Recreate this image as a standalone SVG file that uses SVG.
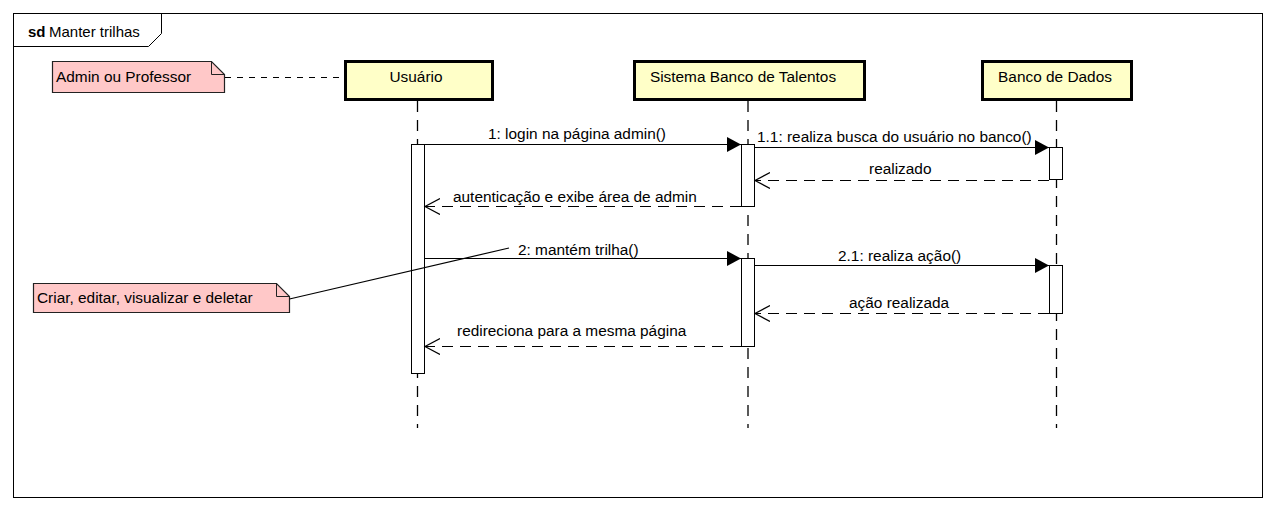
<svg xmlns="http://www.w3.org/2000/svg" width="1276" height="512" viewBox="0 0 1276 512">
<defs>
<style>
text{font-family:"Liberation Sans",Arial,sans-serif;font-size:15.4px;fill:#000}
.life{fill:#FFFFC8;stroke:#000;stroke-width:3}
.ll{stroke:#000;stroke-width:1.3;stroke-dasharray:11,8;fill:none}
.act{fill:#fff;stroke:#000;stroke-width:1}
.msg{stroke:#000;stroke-width:1.2;fill:none}
.ret{stroke:#000;stroke-width:1.2;fill:none;stroke-dasharray:11,7}
.note{fill:#FFC8C8;stroke:#222;stroke-width:1.2}
</style>
<marker id="sync" markerWidth="16" markerHeight="16" refX="14" refY="7.5" orient="auto" markerUnits="userSpaceOnUse">
<path d="M0,0 L14,7.5 L0,15 Z" fill="#000"/>
</marker>
<marker id="open" markerWidth="18" markerHeight="18" refX="15" refY="8.5" orient="auto" markerUnits="userSpaceOnUse">
<path d="M0,0.5 L15,8.5 L0,16.5" fill="none" stroke="#000" stroke-width="1.2"/>
</marker>
</defs>
<rect width="1276" height="512" fill="#fff"/>
<g id="frame">
<rect x="13.5" y="13.5" width="1249" height="484" fill="none" stroke="#000" stroke-width="1"/>
<path d="M13.5,46.5 H148.5 L161.5,33.5 V13.5" fill="none" stroke="#000" stroke-width="1"/>
<text x="28" y="37" font-weight="bold" style="font-size:15px">sd</text>
<text x="49" y="37" style="font-size:15px">Manter trilhas</text>
</g>
<g id="lifelines">
<line class="ll" x1="417.5" y1="101" x2="417.5" y2="428"/>
<line class="ll" x1="748" y1="101" x2="748" y2="428"/>
<line class="ll" x1="1056.5" y1="101" x2="1056.5" y2="428"/>
</g>
<g id="node-usuario">
<rect class="life" x="345.5" y="61.5" width="147" height="38"/>
<text x="416" y="82" text-anchor="middle">Usuário</text>
</g>
<g id="node-sistema">
<rect class="life" x="634.5" y="61.5" width="230" height="38"/>
<text x="743" y="82" text-anchor="middle">Sistema Banco de Talentos</text>
</g>
<g id="node-banco">
<rect class="life" x="982.5" y="61.5" width="149" height="38"/>
<text x="1055" y="82" text-anchor="middle">Banco de Dados</text>
</g>
<g id="activations">
<rect class="act" x="411.5" y="144.5" width="13" height="229"/>
<rect class="act" x="741.5" y="144.5" width="13" height="62"/>
<rect class="act" x="1049.5" y="147.5" width="13" height="32"/>
<rect class="act" x="741.5" y="258.5" width="13" height="88"/>
<rect class="act" x="1049.5" y="265.5" width="13" height="48"/>
</g>
<g id="note-admin">
<path class="note" d="M52.5,61.5 H211.5 L224.5,74.5 V92.5 H52.5 Z"/>
<path d="M211.5,61.5 V74.5 H224.5" fill="none" stroke="#222" stroke-width="1"/>
<text x="56" y="82">Admin ou Professor</text>
</g>
<g id="note-criar">
<path class="note" d="M33.5,283.5 H276.5 L289.5,296.5 V312.5 H33.5 Z"/>
<path d="M276.5,283.5 V296.5 H289.5" fill="none" stroke="#222" stroke-width="1"/>
<text x="37" y="303">Criar, editar, visualizar e deletar</text>
</g>
<g id="connectors">
<line x1="225" y1="77.5" x2="344" y2="77.5" stroke="#000" stroke-width="1" stroke-dasharray="6,6"/>
<line x1="289.5" y1="299" x2="509" y2="248" stroke="#000" stroke-width="1.2"/>
<line class="msg" x1="425" y1="144.5" x2="741" y2="144.5" marker-end="url(#sync)"/>
<text x="488" y="139">1: login na página admin()</text>
<line class="msg" x1="755" y1="147.5" x2="1049" y2="147.5" marker-end="url(#sync)"/>
<text x="757" y="142">1.1: realiza busca do usuário no banco()</text>
<line class="ret" x1="1049" y1="180.5" x2="755" y2="180.5" marker-end="url(#open)"/>
<text x="869" y="174">realizado</text>
<line class="ret" x1="741" y1="206.5" x2="425" y2="206.5" marker-end="url(#open)"/>
<text x="453" y="202">autenticação e exibe área de admin</text>
<line class="msg" x1="425" y1="258.5" x2="741" y2="258.5" marker-end="url(#sync)"/>
<text x="518" y="255">2: mantém trilha()</text>
<line class="msg" x1="755" y1="265.5" x2="1049" y2="265.5" marker-end="url(#sync)"/>
<text x="838" y="261">2.1: realiza ação()</text>
<line class="ret" x1="1049" y1="313.5" x2="755" y2="313.5" marker-end="url(#open)"/>
<text x="849" y="308">ação realizada</text>
<line class="ret" x1="741" y1="346.5" x2="425" y2="346.5" marker-end="url(#open)"/>
<text x="457" y="336">redireciona para a mesma página</text>
</g>
</svg>
